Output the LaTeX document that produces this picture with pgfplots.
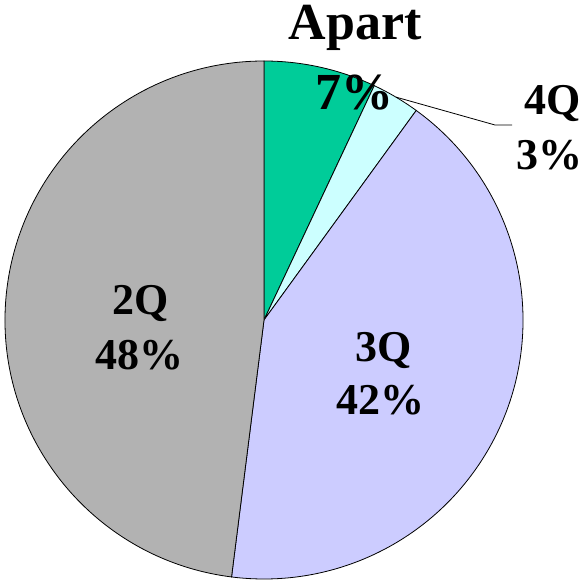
\documentclass[border=0pt]{standalone}
\usepackage{pgfplots}
\pgfplotsset{compat=1.18}
\usepackage{pgfplotstable}
\usepackage{fontspec}
\setmainfont{Liberation Serif}
\definecolor{apart}{HTML}{00CC99}
\definecolor{fourq}{HTML}{CCFFFF}
\definecolor{threeq}{HTML}{CCCCFF}
\definecolor{twoq}{HTML}{B2B2B2}

% shares in percent, clockwise from 12 o'clock
\pgfplotstableread{
label pct
Apart 7
4Q 3
3Q 42
2Q 48
}\piedata

\tikzset{lab/.style={font=\bfseries\fontsize{44}{44}\selectfont, anchor=base, inner sep=0pt},
         biglab/.style={font=\bfseries\fontsize{52}{52}\selectfont, anchor=base, inner sep=0pt}}

\begin{document}
\begin{tikzpicture}
\pgfplotstablegetelem{0}{pct}\of\piedata \edef\pa{\pgfplotsretval}
\pgfplotstablegetelem{1}{pct}\of\piedata \edef\pb{\pgfplotsretval}
\pgfplotstablegetelem{2}{pct}\of\piedata \edef\pc{\pgfplotsretval}
\pgfplotstablegetelem{3}{pct}\of\piedata \edef\pd{\pgfplotsretval}
\pgfmathsetmacro\aA{90}
\pgfmathsetmacro\aB{\aA-3.6*\pa}
\pgfmathsetmacro\aC{\aB-3.6*\pb}
\pgfmathsetmacro\aD{\aC-3.6*\pc}
\pgfmathsetmacro\aE{\aD-3.6*\pd}
\pgfmathsetmacro\aM{(\aB+\aC)/2}
\begin{axis}[
    x=1pt, y=1pt,
    xmin=0, xmax=586, ymin=0, ymax=581,
    hide axis, clip=false, disabledatascaling,
]
\coordinate (ll) at (axis cs:0,0);
\coordinate (ur) at (axis cs:586,581);
\filldraw[fill=apart, draw=black, line width=0.8pt] (axis cs:264,261) -- (axis cs:{264+259*cos(\aA)},{261+259*sin(\aA)}) arc[start angle=\aA, end angle=\aB, radius=259pt] -- cycle;
\filldraw[fill=fourq, draw=black, line width=0.8pt] (axis cs:264,261) -- (axis cs:{264+259*cos(\aB)},{261+259*sin(\aB)}) arc[start angle=\aB, end angle=\aC, radius=259pt] -- cycle;
\filldraw[fill=threeq, draw=black, line width=0.8pt] (axis cs:264,261) -- (axis cs:{264+259*cos(\aC)},{261+259*sin(\aC)}) arc[start angle=\aC, end angle=\aD, radius=259pt] -- cycle;
\filldraw[fill=twoq, draw=black, line width=0.8pt] (axis cs:264,261) -- (axis cs:{264+259*cos(\aD)},{261+259*sin(\aD)}) arc[start angle=\aD, end angle=\aE, radius=259pt] -- cycle;
% leader line for the small slice
\draw[line width=0.8pt] (axis cs:{264+259*cos(\aM)},{261+259*sin(\aM)}) -- (axis cs:495,456) -- (axis cs:512,456);
\node[biglab] at (axis cs:355,541) {Apart};
\node[biglab] at (axis cs:354,471) {\pa\%};
\node[lab] at (axis cs:553,466) {4Q};
\node[lab] at (axis cs:549,411) {\pb\%};
\node[lab] at (axis cs:384,219) {3Q};
\node[lab] at (axis cs:380,166) {\pc\%};
\node[lab] at (axis cs:141,266) {2Q};
\node[lab] at (axis cs:139,211) {\pd\%};
\end{axis}
\pgfresetboundingbox
\path (ll) rectangle (ur);
\end{tikzpicture}
\end{document}
